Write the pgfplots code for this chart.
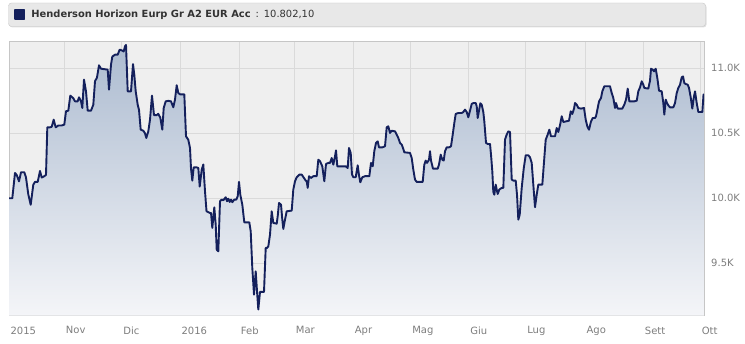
\documentclass[border=0pt]{standalone}
\usepackage{pgfplots}
\pgfplotsset{compat=1.18}
\usepackage{pgfplotstable}
\usepackage{fontspec}
\setmainfont{DejaVu Sans}
\definecolor{navy}{RGB}{20,32,92}
\definecolor{plotbg}{RGB}{239,239,239}
\definecolor{gridcol}{RGB}{218,218,218}
\definecolor{bordercol}{RGB}{198,198,198}
\definecolor{tickcol}{RGB}{125,125,125}
\definecolor{legbg}{RGB}{232,232,232}
\definecolor{legborder}{RGB}{200,200,200}
\definecolor{filltop}{RGB}{172,187,208}
\definecolor{fillbot}{RGB}{244,245,248}
\definecolor{txt}{RGB}{51,51,51}

\pgfplotstableread{
x y
9 10.000
12.3 10.000
15 10.195
16.7 10.180
19 10.130
21 10.200
24.3 10.200
26 10.160
28.3 10.030
30.7 9.950
33.3 10.105
35 10.126
37.7 10.126
40 10.210
41.7 10.160
44.3 10.170
46 10.180
47.3 10.546
50 10.546
51.7 10.550
53.7 10.605
55.7 10.546
58.3 10.560
61.7 10.560
64.3 10.567
66 10.670
68.3 10.674
70.3 10.790
73.3 10.770
75 10.746
77.7 10.746
79 10.777
81 10.746
82.3 10.695
84 10.913
86 10.823
87.7 10.674
91 10.674
93.3 10.720
95 10.900
97 10.930
99 11.023
101 10.997
107.7 10.990
109 10.836
111 11.028
112.3 11.090
115 11.105
117.7 11.105
119.7 11.144
121.7 11.138
123.7 11.130
125 11.170
126 11.180
127.7 10.823
131 10.823
133 11.033
134.3 10.950
135.7 10.823
137.7 10.720
139 10.680
140.7 10.528
143.3 10.520
145 10.500
146.3 10.464
148.3 10.515
150 10.605
152 10.790
154 10.640
156.7 10.640
158.3 10.650
160.3 10.620
162.3 10.528
163.7 10.695
165.7 10.746
168.3 10.750
171 10.746
173.3 10.700
175 10.760
176.7 10.870
178.3 10.810
180 10.800
184.3 10.800
186 10.477
188.3 10.450
190 10.387
191 10.230
192.3 10.136
193.7 10.238
196.7 10.238
198.3 10.233
199.7 10.090
201.7 10.220
203.3 10.260
205 10.054
206.5 9.900
210 9.887
211 9.887
212.3 9.772
213.3 9.850
214.3 9.930
215.7 9.797
216.7 9.605
218.3 9.592
220 9.977
221.7 9.990
223.3 9.985
225.7 10.008
227 9.977
228.3 9.997
229.7 9.972
231 9.990
232.3 9.970
234.3 9.990
236.3 9.990
237.7 10.015
239 10.126
240.3 10.028
242.3 9.951
244.3 9.815
249.3 9.815
250.7 9.746
252.3 9.464
254 9.259
255.7 9.438
257 9.285
258.3 9.144
260 9.280
264 9.280
265.7 9.618
267 9.618
268.3 9.630
270 9.720
271.7 9.900
273.3 9.810
276.7 9.805
277.7 9.862
279 9.964
281 9.951
282.3 9.836
283.3 9.764
285 9.836
286.7 9.900
291.7 9.905
293.3 10.067
295 10.131
296.7 10.162
299.3 10.182
301.7 10.182
304 10.156
305.7 10.136
306.7 10.131
307.7 10.080
309 10.170
311 10.156
313.3 10.170
316.7 10.170
318.3 10.297
320 10.285
322.3 10.246
324.3 10.131
326 10.264
328.3 10.272
330 10.272
331.7 10.310
333.3 10.259
335 10.323
336 10.369
337.3 10.246
345.7 10.246
347.7 10.233
349 10.387
350.7 10.349
352 10.182
353.3 10.162
355.7 10.162
357.7 10.254
359 10.177
360.3 10.123
362.3 10.162
365 10.170
369.3 10.170
371 10.272
372.7 10.246
374.3 10.362
376 10.426
377.7 10.438
379 10.392
382.3 10.392
385 10.400
386.7 10.546
388.3 10.554
390 10.503
391.7 10.520
395 10.515
396.7 10.490
398.3 10.464
400 10.426
401.7 10.413
403 10.387
404.3 10.354
410 10.349
411.7 10.310
413.3 10.221
415 10.144
416.7 10.126
422.7 10.126
424.3 10.259
425.7 10.290
427 10.272
429 10.297
430 10.362
431 10.290
433 10.228
437.7 10.228
439 10.259
440.7 10.336
442.3 10.297
443.7 10.290
445 10.362
446.7 10.392
449 10.392
451 10.400
452.7 10.490
454.3 10.579
455.7 10.649
458.3 10.656
461.7 10.656
463.3 10.664
465 10.682
466.7 10.664
468.3 10.623
470 10.674
471.7 10.726
473.3 10.733
475.7 10.733
476.7 10.708
477.7 10.618
479 10.674
480.3 10.731
481.7 10.720
483.3 10.664
484.3 10.592
486 10.426
487.7 10.418
490 10.418
491 10.336
492.3 10.208
493.3 10.049
494.3 10.028
495.7 10.105
496.7 10.067
497.7 10.033
499.3 10.067
501.7 10.080
503.3 10.080
505 10.451
506.7 10.490
508.3 10.515
510 10.510
511.7 10.144
513.3 10.136
515.7 10.136
517 10.028
518.3 9.836
519.7 9.874
521.7 10.080
523.7 10.228
525.7 10.331
528.3 10.331
530 10.315
531.7 10.272
533.3 10.105
535 9.931
536.7 10.028
538.3 10.105
542.3 10.105
544.3 10.310
545.7 10.451
547.7 10.490
549.3 10.528
551 10.477
555 10.477
556.7 10.541
558.3 10.510
560 10.562
561.7 10.631
563.3 10.587
569 10.597
570.7 10.669
572.3 10.649
574 10.690
575 10.733
576.7 10.720
578.3 10.695
581 10.690
584 10.695
585.7 10.605
587.3 10.554
589 10.528
591 10.592
592.7 10.618
595 10.618
596 10.631
597.7 10.695
599 10.746
601 10.772
602.3 10.823
604.3 10.862
610 10.862
611.7 10.810
613.3 10.772
615 10.695
616 10.733
617.7 10.690
622.3 10.690
624.3 10.720
626 10.759
627.7 10.844
629.3 10.746
634.3 10.746
636.7 10.751
638.3 10.823
640 10.854
641.7 10.900
643.3 10.874
644.3 10.849
648.3 10.844
650 10.905
651 10.997
652.7 10.990
654 10.977
655.7 10.997
657.3 10.926
659 10.828
661.7 10.823
663.3 10.733
664.3 10.644
665.7 10.759
667 10.733
668.3 10.715
670 10.700
673.3 10.700
675 10.733
676.7 10.810
678.3 10.849
680 10.874
681.7 10.931
683 10.938
684.3 10.887
685.7 10.879
687.7 10.874
689 10.849
690.7 10.777
692.3 10.690
693.7 10.772
695 10.823
696.7 10.733
698.3 10.664
702.3 10.664
703.5 10.797
704 10.802
}\fund

\begin{document}
\begin{tikzpicture}[x=1bp,y=1bp]
\useasboundingbox (0,0) rectangle (745,343);
% legend box background
\fill[gray!25, rounded corners=3bp] (9.5,315.5) rectangle (706.5,339);
\draw[rounded corners=3bp, fill=legbg, draw=legborder] (8.5,316.5) rectangle (705.5,340);
\begin{axis}[
  at={(9bp,27.5bp)}, anchor=south west,
  scale only axis, width=695bp, height=274.2bp,
  xmin=9, xmax=704, ymin=9.098, ymax=11.208,
  axis background/.style={fill=plotbg},
  axis line style={draw=bordercol},
  grid=major, major grid style={draw=gridcol, line width=0.8bp},
  major tick length=0pt,
  xtick={9,64.3,121.7,180,239.3,294.3,353.3,410.7,468.7,525.7,585,643.3,700.2},
  xticklabels={2015,Nov,Dic,2016,Feb,Mar,Apr,Mag,Giu,Lug,Ago,Sett,Ott},
  xticklabel style={anchor=north west, inner sep=0pt, yshift=-11bp, xshift=1.4bp,
    font=\fontsize{10bp}{12bp}\selectfont, text=tickcol},
  ytick={9.5,10,10.5,11},
  yticklabels={9.5K,10.0K,10.5K,11.0K},
  yticklabel pos=right,
  yticklabel style={anchor=west, inner sep=0pt, xshift=7bp,
    font=\fontsize{10bp}{12bp}\selectfont, text=tickcol},
  legend style={at={(0.0072,1.0987)}, anchor=west, draw=none, fill=none,
    inner sep=0pt, outer sep=0pt, column sep=6bp,
    nodes={inner sep=0pt, text=txt},
    font=\fontsize{9.9bp}{12bp}\selectfont},
  legend cell align=left,
  legend image code/.code={\fill[navy] (0bp,-4.5bp) rectangle (9.5bp,4.5bp);},
]
\addplot[top color=filltop, bottom color=fillbot, draw=none, forget plot] table {\fund}
  -- (axis cs:704,9.098) -- (axis cs:9,9.098) -- cycle;
\addplot[navy, line width=1.9bp, line join=round] table {\fund};
\addlegendentry{\textbf{Henderson Horizon Eurp Gr A2 EUR Acc}\enspace:\enspace10.802,10}
\end{axis}
\end{tikzpicture}
\end{document}
